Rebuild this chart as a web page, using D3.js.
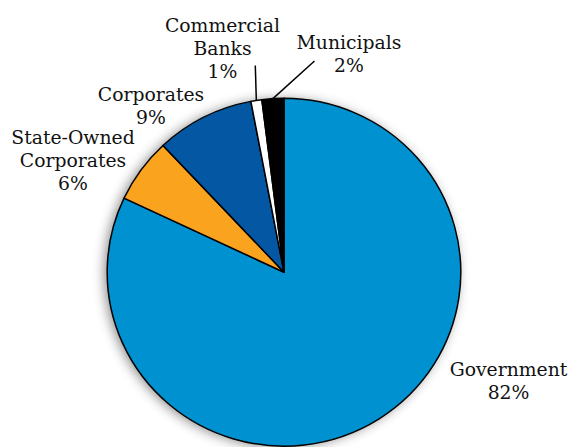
<!DOCTYPE html>
<html>
<head>
<meta charset="utf-8">
<script src="https://cdn.jsdelivr.net/npm/d3@7"></script>
<style>
  html, body { margin: 0; padding: 0; background: #fff; }
  svg { display: block; }
  text { font-family: "DejaVu Serif", serif; font-size: 18.8px; fill: #111; }
</style>
</head>
<body>
<svg id="chart" width="571" height="447"></svg>
<script>
// Issuer categories, in clockwise order from 12 o'clock
const categories = ["Government", "State-Owned Corporates", "Corporates", "Commercial Banks", "Municipals"];
const shares = [82, 6, 9, 1, 2];
const colors = ["#0091d1", "#f9a31f", "#0357a3", "#ffffff", "#000000"];

// Label text lines and where each label block sits
const labelLines = [
  ["Government"],
  ["State-Owned", "Corporates"],
  ["Corporates"],
  ["Commercial", "Banks"],
  ["Municipals"]
];
const labelAnchors = [
  { x: 508.5, y: 375.5 },
  { x: 73, y: 143.5 },
  { x: 151, y: 100.5 },
  { x: 222.5, y: 31.5 },
  { x: 349, y: 48.5 }
];
// Leader lines start just below the label text (null = no leader)
const leaderStarts = [null, null, null, { x: 255.3, y: 65.5 }, { x: 314.5, y: 61 }];

const svg = d3.select("#chart");
const cx = 284, cy = 272.2, rx = 176.8, ry = 173.9;
const lineH = 23;

// Soft halo behind the pie
const defs = svg.append("defs");
const f = defs.append("filter").attr("id", "shadow")
  .attr("x", "-20%").attr("y", "-20%").attr("width", "140%").attr("height", "140%");
f.append("feDropShadow").attr("dx", -3).attr("dy", 1).attr("stdDeviation", 6)
  .attr("flood-color", "#000").attr("flood-opacity", 0.45);

const data = categories.map((c, i) => ({ name: c, value: shares[i], i }));
const pie = d3.pie().value(d => d.value).sort(null);
const arc = d3.arc().innerRadius(0).outerRadius(rx);
const arcs = pie(data);

const g = svg.append("g")
  .attr("transform", `translate(${cx},${cy}) scale(1,${ry / rx})`);

g.append("circle").attr("r", rx).attr("fill", "#fff").attr("filter", "url(#shadow)");

g.selectAll("path.slice")
  .data(arcs)
  .join("path")
  .attr("class", "slice")
  .attr("d", arc)
  .attr("fill", d => colors[d.data.i])
  .attr("stroke", "#000")
  .attr("stroke-width", 1.5)
  .attr("vector-effect", "non-scaling-stroke")
  .attr("stroke-linejoin", "round");

// Leader lines from label to the slice rim at its mid-angle
arcs.forEach(d => {
  const s = leaderStarts[d.data.i];
  if (!s) return;
  const a = (d.startAngle + d.endAngle) / 2;
  const ex = cx + rx * Math.sin(a);
  const ey = cy - ry * Math.cos(a);
  svg.append("line")
    .attr("x1", s.x).attr("y1", s.y)
    .attr("x2", ex).attr("y2", ey)
    .attr("stroke", "#000").attr("stroke-width", 1.5);
});

// Labels: name lines followed by the percentage
data.forEach(d => {
  const lines = labelLines[d.i].concat([`${d.value}%`]);
  const p = labelAnchors[d.i];
  const t = svg.append("text").attr("text-anchor", "middle");
  lines.forEach((ln, k) => {
    t.append("tspan").attr("x", p.x).attr("y", p.y + k * lineH).text(ln);
  });
});
</script>
</body>
</html>
